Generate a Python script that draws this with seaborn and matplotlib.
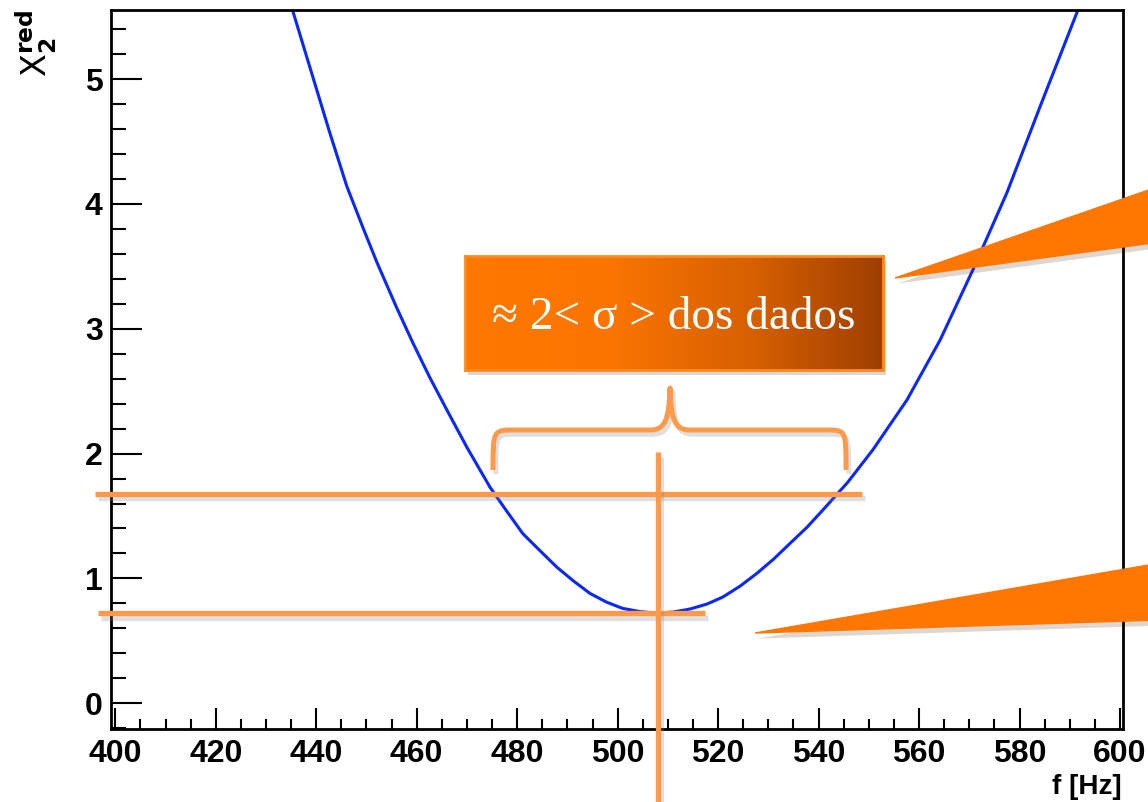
import numpy as np
import pandas as pd
import matplotlib
matplotlib.use("Agg")
import matplotlib.pyplot as plt
import seaborn as sns
from matplotlib.path import Path
from matplotlib.patches import PathPatch, Polygon, Rectangle
from matplotlib import patheffects as pe
from matplotlib.colors import LinearSegmentedColormap
import matplotlib.transforms as mtransforms

# ---------------- data ----------------
freq = [435.3, 439.3, 442.7, 446.1, 449.3, 452.1, 456.0, 459.2, 462.6, 466.0,
        470.0, 474.6, 477.9, 481.1, 484.6, 487.9, 491.2, 494.5, 497.8, 501.0,
        504.5, 507.8, 511.1, 514.4, 517.8, 520.9, 524.4, 527.7, 531.0, 534.3,
        537.7, 540.9, 545.8, 550.8, 557.6, 564.2, 570.7, 577.5, 584.1, 591.6]
chi2_red = [5.55, 5.02, 4.57, 4.14, 3.81, 3.53, 3.17, 2.89, 2.61, 2.35,
            2.05, 1.73, 1.54, 1.36, 1.22, 1.09, 0.98, 0.88, 0.81, 0.76,
            0.734, 0.722, 0.731, 0.755, 0.795, 0.85, 0.939, 1.04, 1.153, 1.28,
            1.41, 1.55, 1.77, 2.03, 2.43, 2.91, 3.47, 4.09, 4.78, 5.55]
x_ticks = [400, 420, 440, 460, 480, 500, 520, 540, 560, 580, 600]
y_ticks = [0, 1, 2, 3, 4, 5]
chi2_min = 0.72
chi2_level = 1.68
f_best = 508.0
box_text = "≈ 2< σ > dos dados"

df = pd.DataFrame({"f": freq, "chi2": chi2_red})

# ---------------- figure ----------------
W, H = 1148, 802
sns.set_style("white")
plt.rcParams["font.family"] = ["Liberation Sans", "DejaVu Sans"]
plt.rcParams["text.color"] = "black"
plt.rcParams["xtick.color"] = "black"
plt.rcParams["ytick.color"] = "black"
fig = plt.figure(figsize=(W / 100, H / 100), dpi=100)
ax = fig.add_axes([111 / W, 1 - 729 / H, (1123 - 111) / W, (729 - 10) / H])

sns.lineplot(data=df, x="f", y="chi2", ax=ax, color="#0A28FF", linewidth=2.2, zorder=2)

ax.set_xlim(399.15, 600.6)
ax.set_ylim(-0.206, 5.553)
ax.set_xticks(x_ticks)
ax.set_yticks(y_ticks)
ax.set_xticks(np.arange(400, 601, 5), minor=True)
ax.set_yticks(np.arange(-0.2, 5.6, 0.2), minor=True)
ax.set_xticklabels([str(t) for t in x_ticks], fontsize=23, fontweight="bold", color="black")
ax.set_yticklabels([str(t) for t in y_ticks], fontsize=23, fontweight="bold", color="black")
ax.tick_params(axis="both", which="both", direction="in", top=False, right=False,
               bottom=True, left=True, color="black", width=1.5)
ax.tick_params(axis="x", which="major", length=15, pad=7)
ax.tick_params(axis="x", which="minor", length=7.5)
ax.tick_params(axis="y", which="major", length=22, pad=6)
ax.tick_params(axis="y", which="minor", length=11)
for s in ax.spines.values():
    s.set_color("black")
    s.set_linewidth(2)
ax.set_xlabel("")
ax.set_ylabel("")

fig.text(1122 / W, 1 - 787 / H, "f [Hz]", ha="right", va="center",
         fontsize=20, fontweight="bold", color="black")
fig.text(36 / W, 1 - 10 / H, r"$\mathrm{X}_{\mathbf{2}}^{\mathbf{red}}$",
         rotation=90, ha="center", va="top", fontsize=24, color="black")

# ---------------- annotations ----------------
orange_line = "#FF9A4A"
shadow = [pe.SimpleLineShadow(offset=(2, -3), shadow_color="gray", alpha=0.25), pe.Normal()]
ax.plot([396.0, 548.7], [chi2_level, chi2_level], color=orange_line, lw=3.8,
        clip_on=False, zorder=4, path_effects=shadow, solid_capstyle="butt")
ax.plot([396.6, 517.4], [chi2_min, chi2_min], color=orange_line, lw=3.8,
        clip_on=False, zorder=4, path_effects=shadow, solid_capstyle="butt")
ax.plot([f_best, f_best], [2.01, -0.9], color=orange_line, lw=3.8,
        clip_on=False, zorder=4, path_effects=shadow, solid_capstyle="butt")

# pixel-coordinate transform for decorations
px = mtransforms.Affine2D().scale(1 / W, -1 / H).translate(0, 1) + fig.transFigure

# brace
verts = [(493, 470), (493, 430), (493, 430), (515, 430),
         (650, 430), (666, 430), (669, 418), (670, 388),
         (671, 418), (674, 430), (690, 430),
         (826, 430), (846, 430), (846, 430), (846, 470)]
codes = [Path.MOVETO, Path.CURVE4, Path.CURVE4, Path.CURVE4,
         Path.LINETO, Path.CURVE4, Path.CURVE4, Path.CURVE4,
         Path.CURVE4, Path.CURVE4, Path.CURVE4,
         Path.LINETO, Path.CURVE4, Path.CURVE4, Path.CURVE4]
brace = PathPatch(Path(verts, codes), transform=px, fill=False, edgecolor=orange_line,
                  lw=3.6, capstyle="butt", joinstyle="round", zorder=5,
                  path_effects=[pe.SimpleLineShadow(offset=(2, -3), shadow_color="gray",
                                                    alpha=0.25), pe.Normal()])
fig.add_artist(brace)

# triangles (callouts)
tri_col = "#FF7700"
for pts in ([(895, 278), (1160, 186), (1160, 242)],
            [(755, 633), (1160, 563), (1160, 620)]):
    tri = Polygon(pts, closed=True, transform=px, facecolor=tri_col, edgecolor=tri_col,
                  lw=1, zorder=6,
                  path_effects=[pe.SimplePatchShadow(offset=(2, -4), alpha=0.18), pe.Normal()])
    fig.add_artist(tri)

# gradient box
bx0, bx1, by0, by1 = 465, 883, 256, 370
fig.add_artist(Rectangle((bx0 + 3, by0 + 5), bx1 - bx0, by1 - by0, transform=px,
                         facecolor="gray", alpha=0.3, edgecolor="none", zorder=6))
bax = fig.add_axes([bx0 / W, 1 - by1 / H, (bx1 - bx0) / W, (by1 - by0) / H], zorder=7)
cmap = LinearSegmentedColormap.from_list("g", [(0, "#FF7800"), (0.35, "#FA7500"),
                                               (0.7, "#D55F00"), (1, "#9E3F00")])
bax.imshow(np.linspace(0, 1, 256)[None, :], cmap=cmap, aspect="auto",
           extent=[0, 1, 0, 1])
bax.set_xticks([])
bax.set_yticks([])
for s in bax.spines.values():
    s.set_color("#FF8A20")
    s.set_linewidth(2)
bax.text(0.5, 0.46, box_text, ha="center", va="center", color="white", fontsize=34,
         family=["Liberation Serif", "DejaVu Sans"], transform=bax.transAxes)

fig.savefig("out.png", dpi=100)
